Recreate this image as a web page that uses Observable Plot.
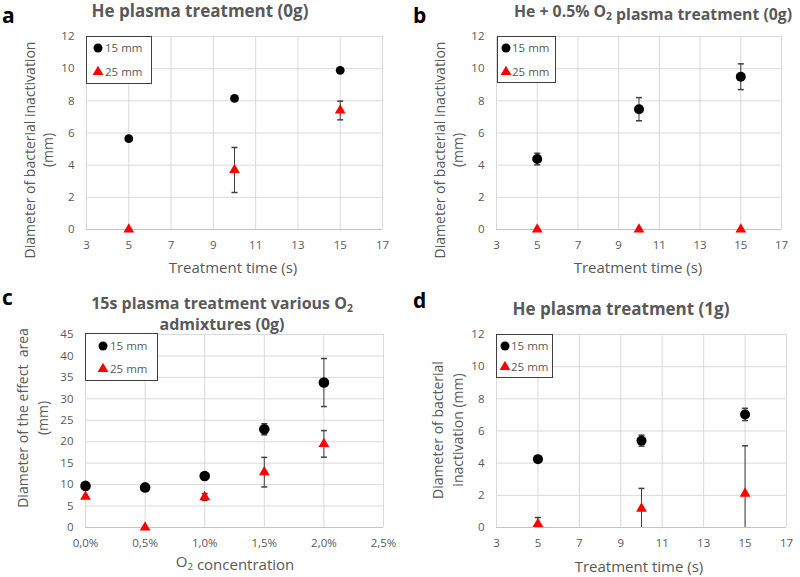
<!DOCTYPE html>
<html>
<head>
<meta charset="utf-8">
<script src="https://cdn.jsdelivr.net/npm/d3@7"></script>
<script src="https://cdn.jsdelivr.net/npm/@observablehq/plot@0.6"></script>
<style>
  body { margin: 0; background: #fff; }
  #fig { position: relative; width: 800px; height: 577px; font-family: "Open Sans", sans-serif; }
  .panel { position: absolute; }
  #notes { position: absolute; left: 0; top: 0; pointer-events: none; }
  #notes text { font-family: "Open Sans", sans-serif; fill: #595959; }
  .legend { position: absolute; box-sizing: border-box; border: 1.5px solid #404040; background: #fff; }
</style>
</head>
<body>
<div id="fig"></div>
<script>
// shared x values
const times = [5, 10, 15];
const timeTicks = [3, 5, 7, 9, 11, 13, 15, 17];
const mmTicks = [0, 2, 4, 6, 8, 10, 12];
const o2Levels = [0, 0.5, 1.0, 1.5, 2.0];
const o2Ticks = [0, 0.5, 1.0, 1.5, 2.0, 2.5];
const areaTicks = [0, 5, 10, 15, 20, 25, 30, 35, 40, 45];

// a: He plasma treatment (0g)
const a15 = [5.65, 8.15, 9.9];
const a15Err = [0, 0, 0];
const a25 = [0, 3.7, 7.4];
const a25Err = [0, 1.4, 0.58];

// b: He + 0.5% O2 plasma treatment (0g)
const b15 = [4.38, 7.48, 9.5];
const b15Err = [0.36, 0.72, 0.8];
const b25 = [0, 0, 0];
const b25Err = [0, 0, 0];

// c: 15s plasma treatment, various O2 admixtures (0g)
const c15 = [9.7, 9.35, 12.0, 22.9, 33.8];
const c15Err = [0, 0, 0.5, 1.3, 5.6];
const c25 = [7.2, 0, 7.1, 12.9, 19.5];
const c25Err = [0, 0, 0.8, 3.45, 3.1];

// d: He plasma treatment (1g)
const d15 = [4.25, 5.4, 7.03];
const d15Err = [0.1, 0.34, 0.38];
const d25 = [0.22, 1.18, 2.11];
const d25Err = [0.4, 1.25, 2.97];

function toRows(xs, ys, errs) {
  return xs.map((x, i) => ({x: x, y: ys[i], lo: ys[i] - errs[i], hi: ys[i] + errs[i]}));
}

// small horizontal bar for the error bar ends
const cap = {
  draw(context) {
    context.moveTo(-3, 0);
    context.lineTo(3, 0);
  }
};

function panel(opts) {
  const s15 = toRows(opts.xs, opts.y15, opts.e15);
  const s25 = toRows(opts.xs, opts.y25, opts.e25);
  const bars = s15.concat(s25).filter(d => d.hi > d.lo);
  return Plot.plot({
    width: 400,
    height: opts.height,
    marginLeft: opts.margin[0],
    marginRight: opts.margin[1],
    marginTop: opts.margin[2],
    marginBottom: opts.margin[3],
    style: {fontFamily: "'Open Sans', sans-serif", fontSize: "11.5px", color: "#595959", background: "transparent"},
    x: {domain: opts.xDomain},
    y: {domain: opts.yDomain},
    marks: [
      Plot.gridX({ticks: opts.xTicks, stroke: "#d9d9d9", strokeOpacity: 1}),
      Plot.gridY({ticks: opts.yTicks, stroke: "#d9d9d9", strokeOpacity: 1}),
      Plot.ruleY([opts.yDomain[0]], {stroke: "#c4c4c4"}),
      Plot.axisX({ticks: opts.xTicks, tickSize: 0, tickPadding: 11, tickFormat: opts.xFormat, label: null}),
      Plot.axisY({ticks: opts.yTicks, tickSize: 0, tickPadding: 12, label: null}),
      Plot.ruleX(bars, {x: "x", y1: "lo", y2: "hi", stroke: "#404040", clip: true}),
      Plot.dot(bars, {x: "x", y: "hi", symbol: cap, stroke: "#404040", clip: true}),
      Plot.dot(bars, {x: "x", y: "lo", symbol: cap, stroke: "#404040", clip: true}),
      Plot.dot(s15, {x: "x", y: "y", r: opts.r, symbol: "circle", fill: "#000"}),
      Plot.dot(s25, {x: "x", y: "y", r: 4, symbol: "triangle", fill: "#ff0000"})
    ]
  });
}

const fig = document.getElementById("fig");

function place(node, left, top) {
  const wrap = document.createElement("div");
  wrap.className = "panel";
  wrap.style.left = left + "px";
  wrap.style.top = top + "px";
  wrap.appendChild(node);
  fig.appendChild(wrap);
}

const timeFormat = d => String(d);
const pctFormat = d => d.toFixed(1).replace(".", ",") + "%";

place(panel({xs: times, y15: a15, e15: a15Err, y25: a25, e25: a25Err, r: 4.4,
  xDomain: [3, 17], xTicks: timeTicks, xFormat: timeFormat, yDomain: [0, 12], yTicks: mmTicks,
  height: 280, margin: [86, 18, 36, 51]}), 0, 0);
place(panel({xs: times, y15: b15, e15: b15Err, y25: b25, e25: b25Err, r: 5,
  xDomain: [3, 17], xTicks: timeTicks, xFormat: timeFormat, yDomain: [0, 12], yTicks: mmTicks,
  height: 280, margin: [96, 19, 36, 51]}), 400, 0);
place(panel({xs: o2Levels, y15: c15, e15: c15Err, y25: c25, e25: c25Err, r: 5.3,
  xDomain: [0, 2.5], xTicks: o2Ticks, xFormat: pctFormat, yDomain: [0, 45], yTicks: areaTicks,
  height: 297, margin: [85, 17, 54, 50]}), 0, 280);
place(panel({xs: times, y15: d15, e15: d15Err, y25: d25, e25: d25Err, r: 5,
  xDomain: [3, 17], xTicks: timeTicks, xFormat: timeFormat, yDomain: [0, 12], yTicks: mmTicks,
  height: 297, margin: [96, 14, 54, 50]}), 400, 280);

// legends
const legendBoxes = [[86, 36, 66, 48], [497, 36, 59, 47], [85, 333, 73, 48], [496, 334, 57, 44]];
legendBoxes.forEach(([l, t, w, h]) => {
  const box = document.createElement("div");
  box.className = "legend";
  Object.assign(box.style, {left: l + "px", top: t + "px", width: w + "px", height: h + "px"});
  fig.appendChild(box);
});

// titles, panel letters, axis titles and legend entries
const notes = d3.select(fig).append("svg")
  .attr("id", "notes").attr("width", 800).attr("height", 577);

function label(x, y, parts, size, weight, anchor, rotate) {
  const t = notes.append("text")
    .attr("text-anchor", anchor || "middle")
    .attr("font-size", size)
    .attr("font-weight", weight || "normal")
    .attr("transform", `translate(${x},${y})` + (rotate ? ` rotate(${rotate})` : ""));
  parts.forEach(p => {
    if (Array.isArray(p)) {
      t.append("tspan").attr("font-size", size * 0.65).attr("dy", size * 0.2).text(p[0]);
      t.append("tspan").attr("dy", -size * 0.2).text("");
    } else {
      t.append("tspan").text(p);
    }
  });
  return t;
}

[["a", 2, 23], ["b", 413, 23], ["c", 2, 305], ["d", 413, 308]].forEach(([s, x, y]) =>
  label(x, y, [s], 21, "bold", "start").style("fill", "#000"));

label(200, 16.5, ["He plasma treatment (0g)"], 17, "bold");
label(653, 16.5, ["He + 0.5% O", ["2"], " plasma treatment (0g)"], 15.8, "bold");
label(222, 308.5, ["15s plasma treatment various O", ["2"]], 16, "bold");
label(222, 330, ["admixtures (0g)"], 16, "bold");
label(621, 315, ["He plasma treatment (1g)"], 17, "bold");

label(233, 273, ["Treatment time (s)"], 15);
label(638, 273, ["Treatment time (s)"], 15);
label(235, 567, ["O", ["2"], " concentration"], 15);
label(639, 571.5, ["Treatment time (s)"], 15);

label(35, 150, ["Diameter of bacterial inactivation"], 14, "normal", "middle", -90);
label(53, 150, ["(mm)"], 14, "normal", "middle", -90);
label(444.5, 150, ["Diameter of bacterial inactivation"], 14, "normal", "middle", -90);
label(463, 150, ["(mm)"], 14, "normal", "middle", -90);
label(27.5, 418, ["Diameter of the effect\u00a0 area"], 14, "normal", "middle", -90);
label(48, 418, ["(mm)"], 14, "normal", "middle", -90);
label(443, 430, ["Diameter of bacterial"], 14, "normal", "middle", -90);
label(463, 430, ["inactivation (mm)"], 14, "normal", "middle", -90);

// legend entries: [marker x, row 1 y, row 2 y, text x]
const legendRows = [[98, 48, 72, 105], [506, 48, 72, 512], [103, 346, 369, 110], [505, 346, 367, 511]];
const tri = d3.symbol(d3.symbolTriangle, Math.PI * 16);
legendRows.forEach(([mx, y1, y2, tx]) => {
  notes.append("circle").attr("cx", mx).attr("cy", y1).attr("r", 4.5).attr("fill", "#000");
  notes.append("path").attr("d", tri()).attr("transform", `translate(${mx},${y2})`).attr("fill", "#ff0000");
  label(tx, y1 + 4, ["15 mm"], 11.5, "normal", "start");
  label(tx, y2 + 4, ["25 mm"], 11.5, "normal", "start");
});
</script>
</body>
</html>
